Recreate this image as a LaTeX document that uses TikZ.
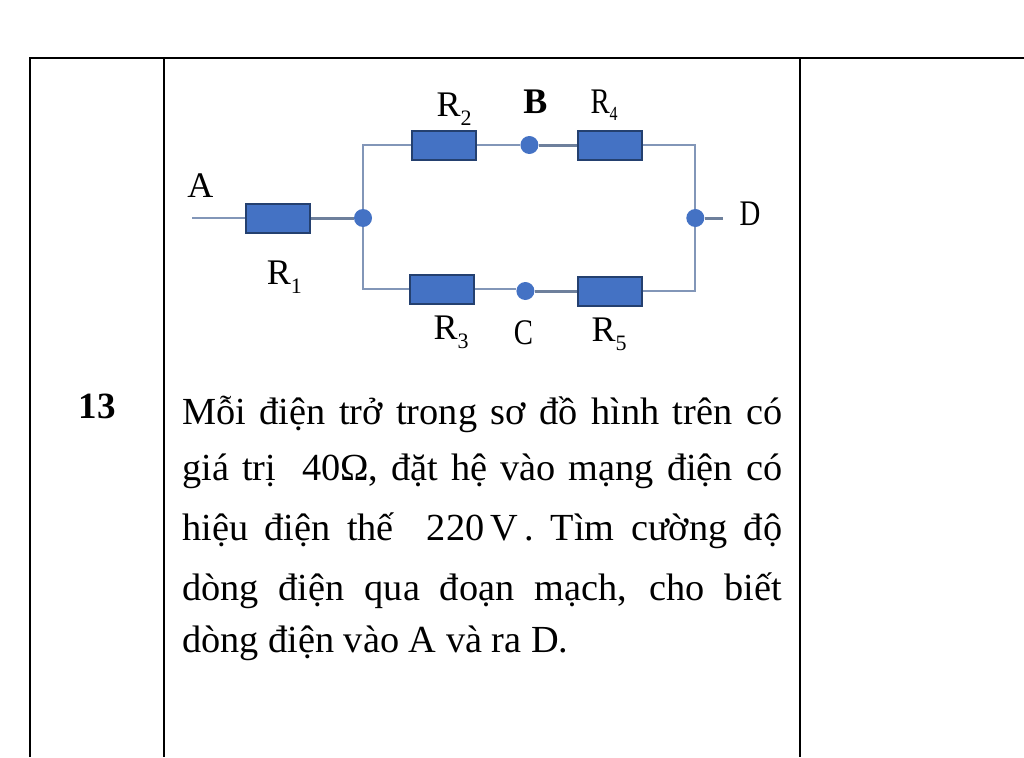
\documentclass[tikz,border=0pt]{standalone}
\usepackage{graphicx}
\usepackage{fontspec}
\setmainfont{Liberation Serif}
\usetikzlibrary{positioning}
\definecolor{resblue}{HTML}{4472C4}
\definecolor{resedge}{HTML}{24406F}
\definecolor{wirecol}{HTML}{8296B8}
\newcommand{\Rlab}[1]{R\raisebox{-9pt}{\fontsize{22}{22}\selectfont #1}}
\newcommand{\narrow}[1]{\scalebox{0.8}[1]{#1}}
\tikzset{
    %Define style for resistors
    res/.style={
           rectangle,
           draw = resedge, line width = 2pt,
           fill = resblue,
           minimum width = 64pt,
           minimum height = 29pt,
           inner sep = 0pt},
    %Define style for junctions
    dot/.style={
           circle,
           fill = resblue,
           minimum size = 18pt,
           inner sep = 0pt},
    % Define wire styles
    wire/.style={
           draw = wirecol, line width = 2pt},
    wirethick/.style={
           draw = wirecol!85!black, line width = 3pt},
    tline/.style={
           draw = black, line width = 2pt},
    lab/.style={
           font = \fontsize{36}{36}\selectfont,
           inner sep = 0pt},
    para/.style={
           font = \fontsize{38.3}{58}\selectfont,
           text width = 600pt,
           align = justify,
           inner sep = 0pt}
}
\begin{document}
\begin{tikzpicture}[x=1pt, y=-1pt]
\useasboundingbox (0,0) rectangle (1024,757);
 %table
\coordinate (TL) at (30,58);
\coordinate (TR) at (1024,58);
\coordinate (BL) at (30,757);
\coordinate (CA) at (164,58);
\coordinate (CB) at (164,757);
\coordinate (CC) at (800,58);
\coordinate (CD) at (800,757);
\draw[tline] (BL) -- (TL) -- (TR);
\draw[tline] (CA) -- (CB);
\draw[tline] (CC) -- (CD);
\node[font=\fontsize{37}{37}\selectfont\bfseries, inner sep=0pt] (num) at (97,406) {13};
 %nodes
\node[dot] (J1) at (363,218) {};
\node[res, left=42.5pt of J1] (R1) {};
\coordinate[left=53pt of R1] (A);
\node[res, right=39pt of J1, yshift=73pt] (R2) {};
\node[dot, right=43pt of R2] (B) {};
\node[res, right=38.5pt of B] (R4) {};
\node[dot, right=43pt of R4, yshift=-73pt] (J2) {};
\coordinate[right=18pt of J2] (D);
\node[res, right=37pt of J1, yshift=-71pt] (R3) {};
\node[dot, right=41pt of R3, yshift=-2pt] (C) {};
\node[res, right=42.5pt of C] (R5) {};
 %wires
\draw[wire] (A) -- (R1);
\draw[wirethick] (R1) -- (J1);
\draw[wire] (J1) |- (R2);
\draw[wire] (J1) |- (R3);
\draw[wire] (R2) -- (B);
\draw[wirethick] (B) -- (R4);
\draw[wire] (R3) -- (C.west |- R3);
\draw[wirethick] (C) -- (R5);
\draw[wire] (R4) -| (J2);
\draw[wire] (R5) -| (J2);
\draw[wirethick] (J2) -- (D);
 %labels
\node[lab, below=27pt of R1, xshift=6pt] (lR1) {\Rlab{1}};
\node[lab, above=4pt of R2, xshift=10pt] (lR2) {\Rlab{2}};
\node[lab, above=9pt of R4, xshift=-6pt] (lR4) {\narrow{R}\raisebox{-7pt}{\fontsize{20}{20}\selectfont\narrow{4}}};
\node[lab, below=11pt of R3, xshift=9pt] (lR3) {\Rlab{3}};
\node[lab, below=11pt of R5, xshift=-1pt] (lR5) {\Rlab{5}};
\node[lab, above=22pt of B, xshift=6pt] (lB) {\textbf{B}};
\node[lab, below=20pt of C, xshift=-2pt] (lC) {\narrow{C}};
\node[lab, above=20pt of A, xshift=8pt] (lA) {A};
\node[lab, right=17pt of D, yshift=4pt] (lD) {\narrow{D}};
 %text
\node[para, anchor=north west] (txt) at (182,396) {Mỗi điện trở trong sơ đồ hình trên có\vspace{-2pt}\linebreak
giá trị\ \ 40Ω, đặt hệ vào mạng điện có\vspace{2pt}\linebreak
hiệu điện thế\ \ 220\,V\,. Tìm cường độ\vspace{2pt}\linebreak
dòng điện qua đoạn mạch, cho biết\vspace{-6pt}\linebreak
dòng điện vào A và ra D.};
\end{tikzpicture}
\end{document}
